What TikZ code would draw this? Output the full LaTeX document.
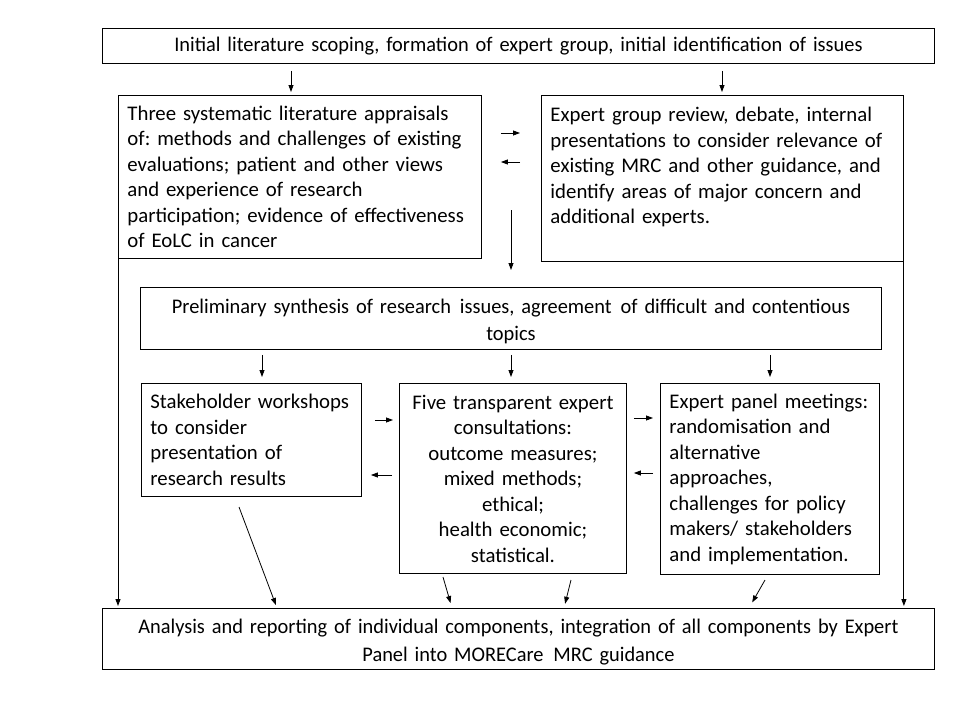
\documentclass[tikz,border=0pt]{standalone}
\usepackage{fontspec}
\setmainfont{Carlito}
\newfontfamily\condfont[FakeStretch=0.98]{Carlito}
\usetikzlibrary{arrows.meta,calc}
\frenchspacing
\begin{document}
\begin{tikzpicture}[x=1pt,y=-1pt,
  box/.style={draw, line width=0.9pt, anchor=north west, inner xsep=9pt, inner ysep=0pt,
    font=\frenchspacing\fontsize{20.8}{25.5}\selectfont},
  cbox/.style={box, align=center, font=\frenchspacing\condfont\fontsize{20.8}{27.5}\selectfont},
  lowered/.style={execute at begin node={\rule{0pt}{20.5pt}}},
  arr/.style={line width=0.8pt, -{Triangle[length=7pt,width=5pt]}},
  ln/.style={line width=0.9pt}]
\useasboundingbox (0,0) rectangle (960,720);
\fill[white] (0,0) rectangle (960,720);

\node[cbox, text width=814pt, minimum height=35pt] (top) at (102,28)
  {Initial literature scoping, formation of expert group, initial identification of issues};

\node[box, align=left, text width=345pt, minimum height=163pt] (A) at (118,95)
  {Three systematic literature appraisals\\ of: methods and challenges of existing\\ evaluations; patient and other views\\ and experience of research\\ participation; evidence of effectiveness\\ of EoLC in cancer};

\node[box, align=left, text width=344pt, minimum height=166pt] (B) at (541,95)
  {Expert group review, debate, internal\\ presentations to consider relevance of\\ existing MRC and other guidance, and\\ identify areas of major concern and\\ additional experts.\\ \mbox{}};

\node[cbox, lowered, text width=723pt, minimum height=62pt] (mid) at (140,287)
  {Preliminary synthesis of research\hspace{2pt} issues, agreement\hspace{2pt} of difficult and contentious\\ topics};

\node[box, align=left, text width=202pt, minimum height=113pt] (C) at (141,383)
  {Stakeholder workshops\\ to consider\\ presentation of\\ research results};

\node[box, align=center, text width=209pt, minimum height=190pt] (D) at (399,383)
  {Five transparent expert\\ consultations:\\ outcome measures;\\ mixed methods;\\ ethical;\\ health economic;\\ statistical.};

\node[box, align=left, text width=201pt, minimum height=191pt] (E) at (660,383)
  {Expert panel meetings:\\ randomisation and\\ alternative\\ approaches,\\ challenges for policy\\ makers/ stakeholders\\ and implementation.};

\node[cbox, lowered, text width=814pt, minimum height=61pt] (bot) at (102,608)
  {Analysis and reporting of individual components, integration of all components by Expert\\ Panel into MORECare\hspace{3pt} MRC guidance};

% top to A and B
\draw[arr, shorten <=7pt, shorten >=3pt] (top.south -| 291,0) -- (A.north -| 291,0);
\draw[arr, shorten <=7pt, shorten >=3pt] (top.south -| 722,0) -- (B.north -| 722,0);

% A <-> B
\draw[arr, shorten <=19pt, shorten >=21pt] (A.east |- 0,133) -- (B.west |- 0,133);
\draw[arr, shorten <=21pt, shorten >=19pt] (B.west |- 0,162) -- (A.east |- 0,162);

% down to mid
\coordinate (s1) at (511,210);
\draw[arr, shorten >=17pt] (s1) -- (mid.north -| s1);

% side lines
\draw[ln, -{Triangle[length=7pt,width=5pt]}, shorten >=2pt] (A.south west) -- (bot.north -| A.south west);
\draw[ln, -{Triangle[length=7pt,width=5pt]}, shorten >=2pt] (B.south east) -- (bot.north -| B.south east);

% mid to C, D, E
\foreach \xx/\nn in {262/C, 511/D, 770/E}
  \draw[arr, shorten <=5pt, shorten >=6pt] (mid.south -| \xx,0) -- (\nn.north -| \xx,0);

% C <-> D
\draw[arr, shorten <=13pt, shorten >=6pt] (C.east |- 0,420) -- (D.west |- 0,420);
\draw[arr, shorten <=7pt, shorten >=9pt] (D.west |- 0,475) -- (C.east |- 0,475);
% D <-> E
\draw[arr, shorten <=7pt, shorten >=7pt] (D.east |- 0,418) -- (E.west |- 0,418);
\draw[arr, shorten <=7pt, shorten >=7pt] (E.west |- 0,473) -- (D.east |- 0,473);

% diagonals to bottom
\coordinate (d1) at (239,507);
\coordinate (d2) at (443,577);
\coordinate (d3) at (571,580);
\coordinate (d4) at (765,580);
\draw[arr] (d1) -- ($(d1)!0.97!(277,608)$);
\draw[arr] (d2) -- ($(d2)!0.84!(452,608)$);
\draw[arr] (d3) -- ($(d3)!0.85!(564,608)$);
\draw[arr] (d4) -- ($(d4)!0.80!(749,608)$);
\end{tikzpicture}
\end{document}
